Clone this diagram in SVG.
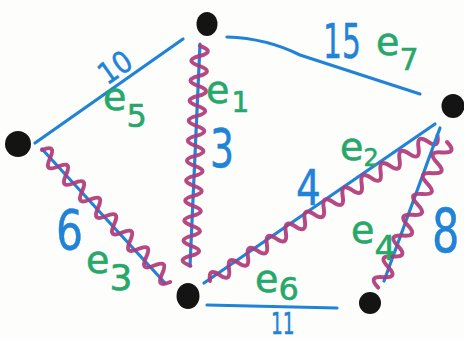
<svg xmlns="http://www.w3.org/2000/svg" width="464" height="341" viewBox="0 0 464 341">
<style>
.bg{fill:#fdfdfb}
.blue{fill:none;stroke:#2183d8;stroke-width:3.2;stroke-linecap:round;stroke-linejoin:round}
.zig{fill:none;stroke:#b03a7a;stroke-width:4;stroke-linecap:round;stroke-linejoin:round;opacity:0.92}
.node{fill:#141414}
.num{fill:#2183d8;stroke:#2183d8;stroke-width:0.5;font-family:"DejaVu Sans",sans-serif}
.lab{fill:#27a86b;stroke:#27a86b;stroke-width:0.6;font-family:"DejaVu Sans",sans-serif;font-size:38px}
</style>
<rect class="bg" x="0" y="0" width="464" height="341"/>
<g id="connectors">
  <g id="e5"><line class="blue" x1="183" y1="39" x2="35" y2="143"/></g>
  <g id="e7"><path class="blue" d="M227,37 C258,38 280,45 300,55 L420,94"/></g>
  <g id="e1">
    <line class="blue" x1="200" y1="44" x2="190" y2="266"/>
    <path class="zig" transform="translate(200,46) rotate(92.5)" d="M0,0 q5,-16 10,0 t10,0 t10,0 t10,0 t10,0 t10,0 t10,0 t10,0 t10,0 t10,0 t10,0 t10,0 t10,0 t10,0 t10,0 t10,0 t10,0 t10,0 t10,0 t10,0 t10,0 t10,0"/>
  </g>
  <g id="e3">
    <line class="blue" x1="42" y1="149" x2="165" y2="283"/>
    <path class="zig" transform="translate(42,150) rotate(45.85)" d="M0,0 q5.75,-15 11.5,0 t11.5,0 t11.5,0 t11.5,0 t11.5,0 t11.5,0 t11.5,0 t11.5,0 t11.5,0 t11.5,0 t11.5,0 t11.5,0 t11.5,0 t11.5,0 t11.5,0 t11.5,0"/>
  </g>
  <g id="e2">
    <line class="blue" x1="204" y1="283" x2="435" y2="124"/>
    <path class="zig" transform="translate(210,281) rotate(-32.6)" d="M0,0 q5.625,-13 11.25,0 t11.25,0 t11.25,0 t11.25,0 t11.25,0 t11.25,0 t11.25,0 t11.25,0 t11.25,0 t11.25,0 t11.25,0 t11.25,0 t11.25,0 t11.25,0 t11.25,0 t11.25,0 t11.25,0 t11.25,0 t11.25,0 t11.25,0 t11.25,0 t11.25,0 t11.25,0 t11.25,0"/>
  </g>
  <g id="e4">
    <line class="blue" x1="440" y1="128" x2="384" y2="281"/>
    <path class="zig" transform="translate(447,142) rotate(115.3)" d="M0,0 q5.75,-15 11.5,0 t11.5,0 t11.5,0 t11.5,0 t11.5,0 t11.5,0 t11.5,0 t11.5,0 t11.5,0 t11.5,0 t11.5,0 t11.5,0 t11.5,0 t11.5,0"/>
  </g>
  <g id="e6"><line class="blue" x1="207" y1="305" x2="337" y2="308"/></g>
</g>
<g id="labels">
  <text class="num" font-size="30" text-anchor="middle" transform="translate(121,76) rotate(-35) scale(0.9,1)">10</text>
  <text class="lab" x="103" y="110">e<tspan dy="17" font-size="32">5</tspan></text>
  <text class="lab" x="206" y="103">e<tspan dx="2" dy="9" font-size="28">1</tspan></text>
  <text class="num" font-size="54" transform="translate(210,167) scale(0.7,1)">3</text>
  <text class="num" font-size="48" transform="translate(323,58) scale(0.62,1)">15</text>
  <text class="lab" x="376" y="55">e<tspan dy="15" font-size="30">7</tspan></text>
  <text class="lab" x="340" y="160">e<tspan dy="6" font-size="24">2</tspan></text>
  <text class="num" font-size="50" transform="translate(296,205) scale(0.78,1)">4</text>
  <text class="num" font-size="56" transform="translate(56,249) scale(0.76,1)">6</text>
  <text class="lab" x="86" y="273">e<tspan dy="17" font-size="36">3</tspan></text>
  <text class="lab" x="255" y="292">e<tspan dy="8" font-size="32">6</tspan></text>
  <text class="num" font-size="30" transform="translate(271,334) scale(0.62,1)">11</text>
  <text class="lab" x="351" y="243">e<tspan dy="17" font-size="34">4</tspan></text>
  <text class="num" font-size="60" transform="translate(432,252) scale(0.72,1)">8</text>
</g>
<g id="n-top"><ellipse class="node" cx="207" cy="24" rx="10.5" ry="12"/></g>
<g id="n-left"><ellipse class="node" cx="18" cy="144" rx="13" ry="13"/></g>
<g id="n-right"><ellipse class="node" cx="453" cy="106" rx="11.5" ry="12"/></g>
<g id="n-bottom"><ellipse class="node" cx="188" cy="296" rx="11.5" ry="13"/></g>
<g id="n-bottomright"><ellipse class="node" cx="370" cy="303" rx="11" ry="11"/></g>
</svg>
